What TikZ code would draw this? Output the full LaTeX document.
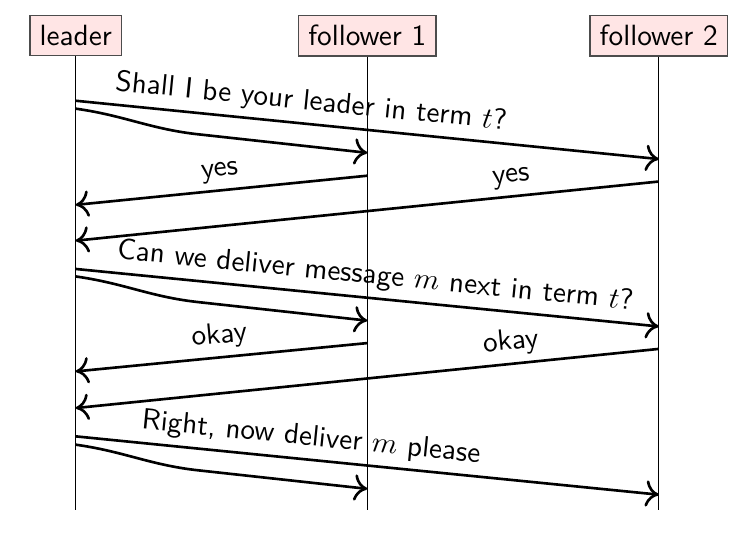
\documentclass[tikz,border=0pt]{standalone}
\usetikzlibrary{calc,arrows.meta}
\begin{document}
\begin{tikzpicture}[font=\sffamily,
  actor/.style={draw=black!70, fill=red!10},
  msg/.style={line width=0.9pt, -{To[length=4.5pt,width=9pt]}}]
\useasboundingbox (-0.91,0.43) rectangle (8.0,-5.99);
\node[actor] (leader) at (0,0) {leader};
\node[actor] (follower1) at (3.5,0) {follower 1};
\node[actor] (follower2) at (7,0) {follower 2};
\coordinate (leaderend) at (0,-5.69);
\coordinate (follower1end) at (3.5,-5.69);
\coordinate (follower2end) at (7,-5.69);
\draw (leader) -- (leaderend);
\draw (follower1) -- (follower1end);
\draw (follower2) -- (follower2end);
% first round
\coordinate (s1) at (0,-0.78);
\coordinate (t1) at (7,-1.48);
\coordinate (u1) at (0,-0.875);
\coordinate (v1) at (3.5,-1.405);
\coordinate (a1) at (3.5,-1.68);
\coordinate (b1) at (0,-2.03);
\coordinate (c1) at (7,-1.75);
\coordinate (d1) at (0,-2.46);
\draw[msg] (s1) -- node[above=-1pt, sloped, pos=0.4] {Shall I be your leader in term $t$?} (t1);
\draw[msg] (u1) to[out=-8, in=174] ($(u1)+(1.49,-0.31)$) -- (v1);
\draw[msg] (a1) -- node[above=-1pt, sloped, pos=0.5] {yes} (b1);
\draw[msg] (c1) -- node[above=-1pt, sloped, pos=0.25] {yes} (d1);
% second round
\coordinate (s2) at (0,-2.80);
\coordinate (t2) at (7,-3.49);
\coordinate (u2) at (0,-2.89);
\coordinate (v2) at (3.5,-3.42);
\coordinate (a2) at (3.5,-3.69);
\coordinate (b2) at (0,-4.03);
\coordinate (c2) at (7,-3.76);
\coordinate (d2) at (0,-4.47);
\draw[msg] (s2) -- node[above=-1pt, sloped, pos=0.51] {Can we deliver message $m$ next in term $t$?} (t2);
\draw[msg] (u2) to[out=-8, in=174] ($(u2)+(1.49,-0.31)$) -- (v2);
\draw[msg] (a2) -- node[above=-1pt, sloped, pos=0.5] {okay} (b2);
\draw[msg] (c2) -- node[above=-1pt, sloped, pos=0.25] {okay} (d2);
% third round
\coordinate (s3) at (0,-4.81);
\coordinate (t3) at (7,-5.51);
\coordinate (u3) at (0,-4.91);
\coordinate (v3) at (3.5,-5.44);
\draw[msg] (s3) -- node[above=-1pt, sloped, pos=0.4] {Right, now deliver $m$ please} (t3);
\draw[msg] (u3) to[out=-8, in=174] ($(u3)+(1.49,-0.31)$) -- (v3);
\end{tikzpicture}
\end{document}
